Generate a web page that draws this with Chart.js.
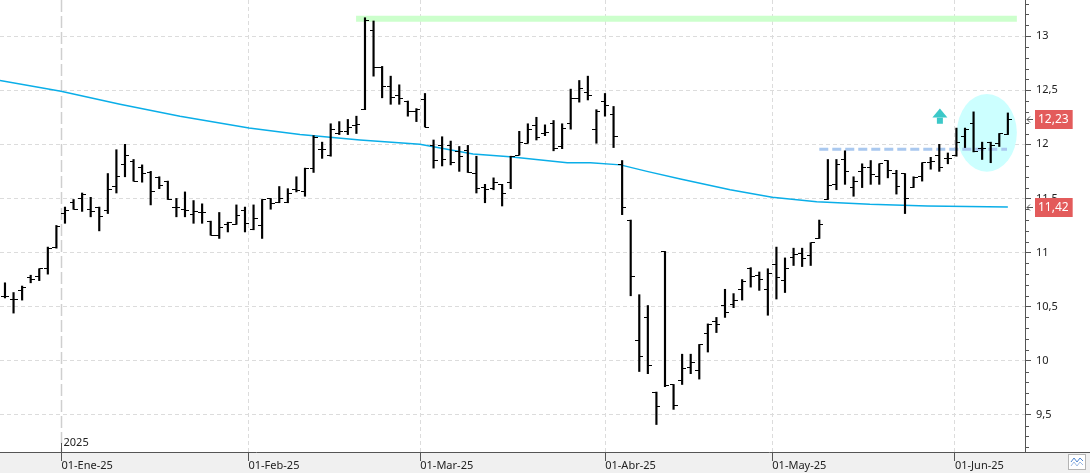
<!DOCTYPE html>
<html>
<head>
<meta charset="utf-8">
<title>OHLC</title>
<script src="https://cdn.jsdelivr.net/npm/chart.js@4/dist/chart.umd.min.js"></script>
<style>
  html, body { margin: 0; padding: 0; background: #fff; overflow: hidden; }
  canvas { display: block; }
</style>
</head>
<body>
<canvas id="chart" width="1090" height="473"></canvas>
<script>
// daily bars, 19-Dic-24 .. 10-Jun-25 (x = bar number)
const opens = [
  10.59, 10.57, 10.65, 10.77, 10.78, 10.85, 11.05, 11.36, 11.46, 11.50,
  11.40, 11.42, 11.39, 11.61, 11.81, 11.84, 11.79, 11.74, 11.69, 11.66,
  11.42, 11.40, 11.35, 11.37, 11.29, 11.16, 11.26, 11.26, 11.39, 11.21,
  11.25, 11.50, 11.46, 11.46, 11.58, 11.56, 11.78, 11.95, 11.90, 12.10,
  12.12, 12.17, 12.32, 13.05, 12.71, 12.53, 12.45, 12.40, 12.30, 12.41,
  11.99, 11.99, 11.99, 11.93, 11.94, 11.73, 11.60, 11.59, 11.63, 11.65,
  11.90, 12.01, 12.17, 12.10, 12.19, 11.98, 12.19, 12.42, 12.48, 12.14,
  12.40, 12.28, 11.81, 11.30, 10.19, 10.40, 9.71, 11.01, 9.78, 9.82,
  9.94, 9.91, 10.25, 10.36, 10.51, 10.52, 10.66, 10.85, 10.79, 10.66,
  10.89, 10.74, 10.95, 10.99, 10.97, 11.13, 11.49, 11.63, 11.86, 11.60,
  11.75, 11.79, 11.70, 11.85, 11.73, 11.73, 11.60, 11.70, 11.83, 11.90,
  11.87, 11.90, 12.07, 12.19, 11.96, 12.02, 12.01, 12.09
];
const highs = [
  10.72, 10.63, 10.69, 10.79, 10.85, 11.05, 11.25, 11.42, 11.49, 11.55,
  11.51, 11.42, 11.73, 11.95, 12.00, 11.86, 11.81, 11.75, 11.70, 11.66,
  11.50, 11.56, 11.48, 11.45, 11.29, 11.37, 11.28, 11.44, 11.42, 11.44,
  11.49, 11.50, 11.61, 11.59, 11.70, 11.78, 12.08, 12.02, 12.19, 12.21,
  12.23, 12.26, 13.17, 13.14, 12.72, 12.63, 12.55, 12.40, 12.33, 12.47,
  12.04, 12.07, 12.03, 11.98, 11.99, 11.89, 11.63, 11.69, 11.63, 11.89,
  12.12, 12.19, 12.25, 12.18, 12.22, 12.19, 12.51, 12.59, 12.63, 12.32,
  12.47, 12.35, 11.85, 11.30, 10.61, 10.51, 9.71, 11.01, 9.78, 10.06,
  10.06, 10.15, 10.34, 10.40, 10.66, 10.62, 10.75, 10.86, 10.82, 10.85,
  11.05, 10.95, 11.04, 11.04, 11.09, 11.30, 11.86, 11.86, 11.94, 11.70,
  11.82, 11.85, 11.82, 11.85, 11.76, 11.73, 11.70, 11.83, 11.88, 12.00,
  11.92, 12.15, 12.15, 12.30, 12.02, 12.02, 12.10, 12.29
];
const lows = [
  10.58, 10.44, 10.56, 10.72, 10.74, 10.80, 11.04, 11.27, 11.40, 11.38,
  11.33, 11.20, 11.36, 11.55, 11.70, 11.66, 11.65, 11.44, 11.59, 11.49,
  11.33, 11.33, 11.27, 11.27, 11.16, 11.13, 11.19, 11.26, 11.19, 11.21,
  11.13, 11.40, 11.46, 11.46, 11.56, 11.52, 11.74, 11.87, 11.89, 12.09,
  12.09, 12.10, 12.32, 12.63, 12.43, 12.37, 12.37, 12.26, 12.21, 12.16,
  11.78, 11.80, 11.81, 11.75, 11.74, 11.55, 11.46, 11.58, 11.43, 11.59,
  11.90, 12.01, 12.04, 12.08, 11.94, 11.96, 12.14, 12.39, 12.41, 12.01,
  12.26, 11.97, 11.35, 10.60, 9.90, 9.88, 9.41, 9.76, 9.55, 9.78,
  9.88, 9.83, 10.08, 10.26, 10.40, 10.49, 10.56, 10.68, 10.65, 10.42,
  10.57, 10.63, 10.88, 10.87, 10.88, 11.13, 11.49, 11.58, 11.63, 11.52,
  11.60, 11.63, 11.63, 11.69, 11.54, 11.36, 11.60, 11.66, 11.77, 11.75,
  11.82, 11.89, 11.97, 11.93, 11.86, 11.83, 11.98, 12.09
];
const closes = [
  10.59, 10.57, 10.68, 10.75, 10.85, 11.04, 11.24, 11.39, 11.40, 11.54,
  11.38, 11.33, 11.58, 11.70, 11.90, 11.66, 11.73, 11.56, 11.62, 11.49,
  11.42, 11.39, 11.38, 11.37, 11.16, 11.23, 11.28, 11.34, 11.27, 11.31,
  11.49, 11.45, 11.50, 11.55, 11.57, 11.78, 12.06, 11.95, 12.14, 12.12,
  12.16, 12.18, 13.14, 12.71, 12.53, 12.43, 12.42, 12.30, 12.32, 12.16,
  11.85, 11.86, 11.83, 11.89, 11.74, 11.59, 11.58, 11.65, 11.55, 11.89,
  12.02, 12.14, 12.06, 12.11, 11.96, 12.15, 12.42, 12.52, 12.45, 12.30,
  12.36, 12.07, 11.42, 10.78, 10.04, 9.96, 9.58, 9.77, 9.59, 9.93,
  9.98, 10.15, 10.33, 10.33, 10.45, 10.56, 10.73, 10.78, 10.75, 10.81,
  10.77, 10.85, 10.98, 10.94, 11.09, 11.26, 11.62, 11.81, 11.75, 11.66,
  11.79, 11.72, 11.82, 11.76, 11.61, 11.50, 11.69, 11.83, 11.84, 11.79,
  11.87, 12.02, 12.14, 11.93, 11.96, 11.99, 12.10, 12.23
];

// moving average, read at these bar positions
const maX = [-0.58, 6.53, 13.42, 20.42, 28.47, 34.42, 41.42, 48.4, 54.6, 58.9,
             65.6, 68.3, 71.8, 74.9, 78.8, 84.6, 89.5, 94.7, 100.9, 107.6, 117];
const maY = [12.59, 12.49, 12.37, 12.26, 12.15, 12.09, 12.04, 12.00, 11.91, 11.885,
             11.83, 11.83, 11.81, 11.75, 11.68, 11.58, 11.51, 11.47, 11.445, 11.43, 11.42];

// axis ticks
const monthPos = [6.59, 28.41, 48.45, 70.03, 89.52, 110.83];
const monthLabels = ['01-Ene-25', '01-Feb-25', '01-Mar-25', '01-Abr-25', '01-May-25', '01-Jun-25'];
const yearLabel = '2025';
const yTicks = [9.5, 10, 10.5, 11, 11.5, 12, 12.5, 13];

// drawn studies
const resistX = [40.96, 118.05];
const resistLevel = 13.16;
const supportX = [95.0, 116.9];
const supportLevel = 11.955;
const circleCenter = [114.55, 12.106];
const circleRadius = [3.5, 0.359];
const arrowAt = [109.07, 12.33, 12.19]; // x, tip, base

const xMin = -0.58, xMax = 119.0;
const yMin = 9.156, yMax = 13.334;
const FONT = "'Noto Sans', sans-serif";

const fmt = v => String(v).replace('.', ',');

function tickImage(side) {
  const c = document.createElement('canvas');
  c.width = 8; c.height = 1;
  const g = c.getContext('2d');
  g.fillStyle = '#000';
  g.fillRect(side === 'left' ? 0 : 4, 0, 4, 1);
  return c;
}

const decor = {
  id: 'decor',
  beforeDraw(chart) {
    const {ctx, width, height, chartArea} = chart;
    ctx.save();
    ctx.fillStyle = '#fff';
    ctx.fillRect(0, 0, width, height);
    ctx.fillStyle = '#f0f0f0';
    ctx.fillRect(0, chartArea.bottom, width, height - chartArea.bottom);
    ctx.restore();
  },
  beforeDatasetsDraw(chart) {
    const {ctx, chartArea, scales: {x, y}} = chart;
    ctx.save();
    // year separator
    const yx = Math.round(x.getPixelForValue(monthPos[0])) + 0.5;
    ctx.strokeStyle = '#cfcfcf';
    ctx.lineWidth = 1.5;
    ctx.setLineDash([12, 4]);
    ctx.beginPath();
    ctx.moveTo(yx, chartArea.top);
    ctx.lineTo(yx, chartArea.bottom);
    ctx.stroke();
    ctx.setLineDash([]);
    // highlight circle
    const cx = x.getPixelForValue(circleCenter[0]);
    const cy = y.getPixelForValue(circleCenter[1]);
    const rx = x.getPixelForValue(circleCenter[0] + circleRadius[0]) - cx;
    const ry = cy - y.getPixelForValue(circleCenter[1] + circleRadius[1]);
    ctx.fillStyle = '#ccffff';
    ctx.beginPath();
    ctx.ellipse(cx, cy, rx, ry, 0, 0, Math.PI * 2);
    ctx.fill();
    ctx.restore();
  },
  afterDatasetsDraw(chart) {
    const {ctx, scales: {x, y}} = chart;
    const ax = x.getPixelForValue(arrowAt[0]);
    const top = y.getPixelForValue(arrowAt[1]);
    const base = y.getPixelForValue(arrowAt[2]);
    ctx.save();
    ctx.fillStyle = '#3cc8c8';
    ctx.beginPath();
    ctx.moveTo(ax, top);
    ctx.lineTo(ax + 7.5, top + 9);
    ctx.lineTo(ax - 7.5, top + 9);
    ctx.closePath();
    ctx.fill();
    ctx.fillRect(ax - 3, top + 9, 6, base - top - 9);
    ctx.restore();
  },
  afterDraw(chart) {
    const {ctx, width, chartArea, scales: {x, y}} = chart;
    ctx.save();
    // bottom border under the price axis too
    ctx.strokeStyle = '#555';
    ctx.lineWidth = 1;
    ctx.beginPath();
    ctx.moveTo(chartArea.right, chartArea.bottom + 0.5);
    ctx.lineTo(width, chartArea.bottom + 0.5);
    ctx.stroke();
    // minor price ticks
    const r = chartArea.right;
    for (let k = Math.ceil(yMin * 10); k <= Math.floor(yMax * 10); k++) {
      if (k % 5 === 0) continue;
      const py = Math.round(y.getPixelForValue(k / 10)) + 0.5;
      ctx.beginPath();
      ctx.moveTo(r, py);
      ctx.lineTo(r + 4, py);
      ctx.stroke();
    }
    // year marker
    const yx = Math.round(x.getPixelForValue(monthPos[0])) + 0.5;
    ctx.beginPath();
    ctx.moveTo(yx, chartArea.bottom - 9);
    ctx.lineTo(yx, chartArea.bottom);
    ctx.stroke();
    ctx.fillStyle = '#222';
    ctx.font = '11px ' + FONT;
    ctx.textBaseline = 'middle';
    ctx.textAlign = 'left';
    ctx.fillText(yearLabel, yx + 2, chartArea.bottom - 9);
    // last price and average tags
    const tag = (value) => {
      const py = Math.round(y.getPixelForValue(value));
      const txt = value.toFixed(2).replace('.', ',');
      ctx.font = '12px ' + FONT;
      const w = ctx.measureText(txt).width + 7;
      ctx.fillStyle = '#e35b5b';
      ctx.fillRect(r + 10, py - 9, w, 19);
      ctx.fillStyle = '#fff';
      ctx.fillText(txt, r + 13, py + 1);
      ctx.strokeStyle = '#555';
      ctx.beginPath();
      ctx.moveTo(r + 2, py + 0.5);
      ctx.lineTo(r + 8, py + 0.5);
      ctx.moveTo(r + 5, py - 2.5);
      ctx.lineTo(r + 2, py + 0.5);
      ctx.lineTo(r + 5, py + 3.5);
      ctx.stroke();
    };
    tag(closes[closes.length - 1]);
    tag(maY[maY.length - 1]);
    // corner button
    ctx.fillStyle = '#fff';
    ctx.fillRect(1068.5, 454.5, 17, 15);
    ctx.strokeStyle = '#b4b4b4';
    ctx.strokeRect(1068.5, 454.5, 17, 15);
    ctx.strokeStyle = '#4f86d0';
    ctx.beginPath();
    ctx.moveTo(1071, 462); ctx.lineTo(1074, 458); ctx.lineTo(1077, 462); ctx.lineTo(1080, 458); ctx.lineTo(1083, 461);
    ctx.stroke();
    ctx.strokeStyle = '#9dbbe6';
    ctx.beginPath();
    ctx.moveTo(1071, 466); ctx.lineTo(1074, 462); ctx.lineTo(1077, 466); ctx.lineTo(1080, 462); ctx.lineTo(1083, 465);
    ctx.stroke();
    ctx.restore();
  }
};

new Chart(document.getElementById('chart'), {
  type: 'bar',
  data: {
    datasets: [
      {
        type: 'bar',
        data: lows.map((l, i) => ({ x: i, y: [l, highs[i]] })),
        backgroundColor: '#000',
        borderWidth: 0,
        barThickness: 1.5,
        grouped: false
      },
      {
        type: 'scatter',
        data: opens.map((v, i) => ({ x: i, y: v })),
        pointStyle: tickImage('left'),
        pointRadius: 1
      },
      {
        type: 'scatter',
        data: closes.map((v, i) => ({ x: i, y: v })),
        pointStyle: tickImage('right'),
        pointRadius: 1
      },
      {
        type: 'line',
        data: maX.map((v, i) => ({ x: v, y: maY[i] })),
        borderColor: '#0aaee8',
        borderWidth: 1.5,
        pointRadius: 0,
        tension: 0
      },
      {
        type: 'line',
        data: supportX.map(v => ({ x: v, y: supportLevel })),
        borderColor: '#a9c8ef',
        borderWidth: 3,
        borderDash: [9, 4],
        borderCapStyle: 'butt',
        pointRadius: 0
      },
      {
        type: 'line',
        data: resistX.map(v => ({ x: v, y: resistLevel })),
        borderColor: '#ccffcc',
        borderWidth: 6,
        borderCapStyle: 'butt',
        pointRadius: 0
      }
    ]
  },
  options: {
    responsive: false,
    devicePixelRatio: 1,
    animation: false,
    events: [],
    layout: { padding: 0, autoPadding: false },
    plugins: { legend: { display: false }, tooltip: { enabled: false } },
    scales: {
      x: {
        type: 'linear',
        offset: false,
        min: xMin,
        max: xMax,
        afterBuildTicks: s => { s.ticks = monthPos.map(v => ({ value: v })); },
        afterFit: s => { s.height = 21; s.paddingLeft = 0; s.paddingRight = 0; },
        grid: {
          offset: false,
          color: c => c.index === 0 ? 'rgba(0,0,0,0)' : '#dcdcdc',
          tickColor: '#555',
          tickLength: 9,
          borderDash: [4, 3]
        },
        border: { display: true, color: '#555', dash: [4, 3] },
        ticks: {
          align: 'start',
          autoSkip: false,
          maxRotation: 0,
          padding: -2,
          color: '#222',
          font: { family: FONT, size: 11 },
          callback: (v, i) => monthLabels[i]
        }
      },
      y: {
        type: 'linear',
        position: 'right',
        min: yMin,
        max: yMax,
        afterBuildTicks: s => { s.ticks = yTicks.map(v => ({ value: v })); },
        afterFit: s => { s.width = 65; s.paddingTop = 0; s.paddingBottom = 0; },
        grid: {
          color: '#dcdcdc',
          tickColor: '#555',
          tickLength: 6,
          borderDash: [4, 3]
        },
        border: { display: true, color: '#555', dash: [4, 3] },
        ticks: {
          padding: 5,
          color: '#222',
          font: { family: FONT, size: 11 },
          callback: v => fmt(v)
        }
      }
    }
  },
  plugins: [decor]
});
</script>
</body>
</html>
